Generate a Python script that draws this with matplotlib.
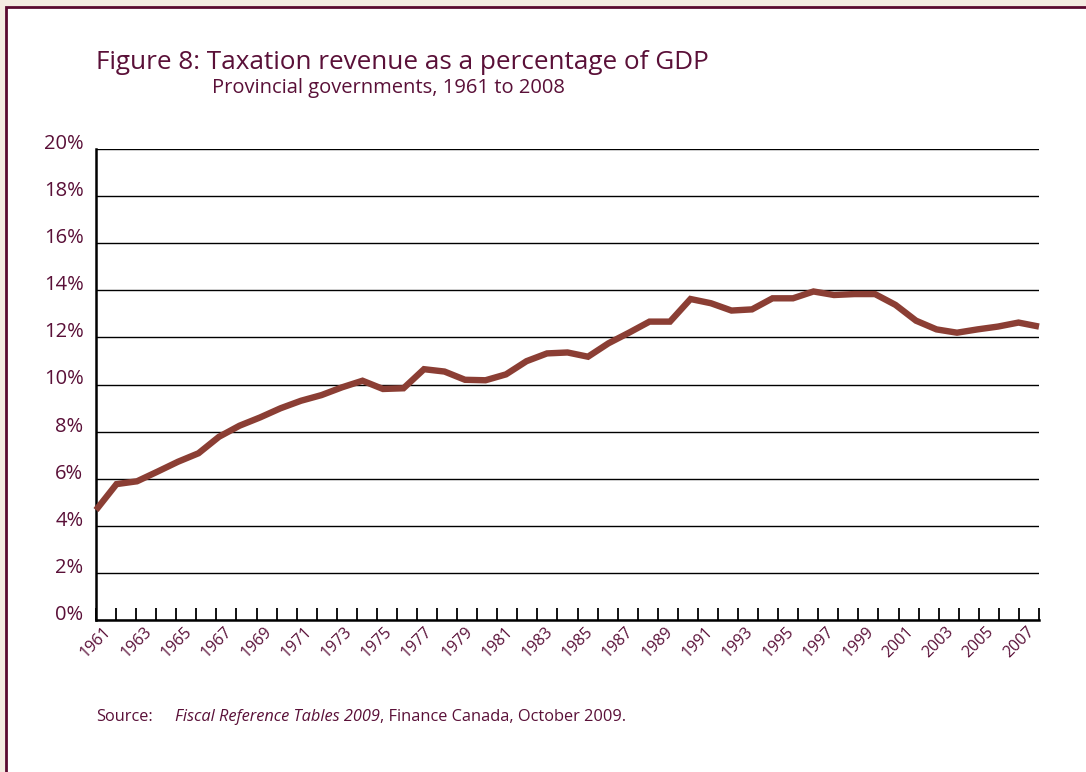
import numpy as np
import matplotlib.pyplot as plt
from matplotlib.patches import Rectangle

# data: provincial taxation revenue, % of GDP
years = list(range(1961, 2008))
revenue_pct = [4.67, 5.77, 5.89, 6.30, 6.72, 7.08, 7.78, 8.25, 8.60, 8.99,
               9.31, 9.55, 9.88, 10.16, 9.81, 9.84, 10.65, 10.55, 10.20, 10.18,
               10.43, 10.99, 11.32, 11.36, 11.18, 11.75, 12.20, 12.67, 12.67, 13.63,
               13.45, 13.14, 13.19, 13.66, 13.66, 13.95, 13.80, 13.84, 13.84, 13.38,
               12.71, 12.34, 12.20, 12.34, 12.46, 12.63, 12.46]

axis_years = list(range(1961, 2009))
tick_labels = [str(y) if (y - 1961) % 2 == 0 else "" for y in axis_years]
y_ticks = list(range(0, 21, 2))

text_col = "#5a1038"
line_col = "#8b3e34"
font = ["Open Sans", "DejaVu Sans"]

fig = plt.figure(figsize=(10.86, 7.72), dpi=100)
fig.patch.set_facecolor("#f4ece2")

# white panel with maroon border (runs off the right / bottom edge)
W, H = 1086, 772
panel = Rectangle((6 / W, -0.05), 1.1, 1 - 7 / H + 0.05, transform=fig.transFigure,
                  facecolor="white", edgecolor="#5a0a30", linewidth=2.0, zorder=0)
fig.add_artist(panel)

ax = fig.add_axes([96 / W, 1 - 620 / H, (1039 - 96) / W, (620 - 149) / H])
ax.set_facecolor("none")

# category axis: 1961..2008
ax.set_xlim(1961, 2008)
ax.set_ylim(0, 20)
ax.set_xticks(axis_years)
ax.set_xticklabels(tick_labels, rotation=45, fontsize=11.5, color=text_col, family=font)
ax.tick_params(axis="x", direction="in", length=9, width=1.3, color="black", pad=3)
ax.set_yticks(y_ticks)
ax.set_yticklabels([f"{v}%" for v in y_ticks], fontsize=14.5, color=text_col, family=font)
ax.tick_params(axis="y", length=0, pad=9)
for lab in ax.get_yticklabels():
    lab.set_verticalalignment("baseline")

ax.grid(axis="y", color="black", linewidth=1.0)
ax.set_axisbelow(True)
for s in ["top", "right"]:
    ax.spines[s].set_visible(False)
ax.spines["left"].set_linewidth(1.8)
ax.spines["bottom"].set_linewidth(1.8)

# the line itself spans the full plot width in the original
ax2 = ax.twiny()
ax2.set_xlim(1961, 2007)
ax2.set_ylim(0, 20)
ax2.plot(years, revenue_pct, color=line_col, linewidth=4.6, solid_joinstyle="miter",
         solid_capstyle="butt", clip_on=False)
ax2.axis("off")

# titles
fig.text(96 / W, 1 - 69 / H, "Figure 8: Taxation revenue as a percentage of GDP",
         fontsize=18.8, color=text_col, family=font, va="baseline")
fig.text(212 / W, 1 - 93 / H, "Provincial governments, 1961 to 2008",
         fontsize=14.5, color=text_col, family=font, va="baseline")

# source line
fig.text(96 / W, 1 - 721 / H, "Source:", fontsize=11.8, color=text_col, family=font,
         va="baseline")
t1 = fig.text(175 / W, 1 - 721 / H, "Fiscal Reference Tables 2009", fontsize=11.8,
              color=text_col, family=font, style="italic", va="baseline")
ax.annotate(", Finance Canada, October 2009.", xy=(1, 0), xycoords=t1,
            fontsize=11.8, color=text_col, family=font, va="bottom",
            annotation_clip=False)

fig.savefig("out.png", dpi=100, facecolor=fig.get_facecolor())
